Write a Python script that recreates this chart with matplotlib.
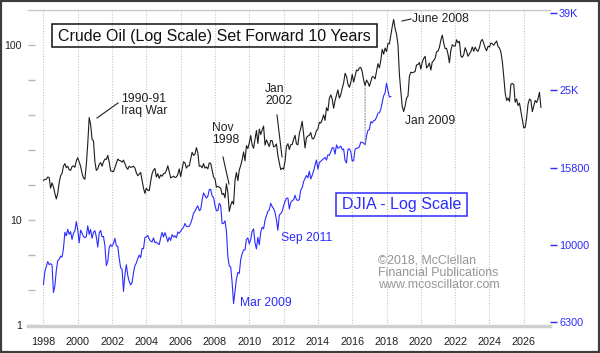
import numpy as np
import matplotlib
matplotlib.use("Agg")
import matplotlib.pyplot as plt
from matplotlib.patches import Rectangle, ConnectionPatch
from matplotlib.lines import Line2D
from matplotlib.ticker import NullLocator

plt.rcParams['font.family'] = ['Liberation Sans', 'DejaVu Sans']

# crude oil, monthly closes Jan 1988 .. Jan 2017 (plotted 10 years forward)
oil_start = 1988
oil = [
    16.9, 17.0, 17.1, 17.6, 17.5, 15.2, 16.3, 15.5, 14.2, 13.2, 14.2, 16.3,   # 1988
    17.9, 18.5, 20.3, 21.0, 19.9, 20.3, 19.4, 19.2, 20.2, 20.4, 20.0, 21.8,   # 1989
    22.7, 21.5, 20.3, 18.5, 17.4, 17.1, 20.7, 27.3, 38.5, 35.2, 28.9, 28.4,   # 1990
    21.5, 19.2, 19.6, 20.8, 21.3, 20.3, 21.5, 22.3, 22.2, 23.4, 21.5, 19.1,   # 1991
    19.0, 18.9, 19.9, 21.1, 22.3, 21.9, 21.8, 21.4, 22.0, 21.0, 20.0, 19.5,   # 1992
    20.3, 20.0, 20.1, 20.3, 19.8, 18.6, 17.9, 18.3, 18.7, 16.9, 15.2, 14.2,   # 1993
    15.2, 14.8, 14.7, 16.6, 18.4, 19.3, 19.7, 17.6, 18.4, 17.3, 18.1, 17.8,   # 1994
    18.4, 18.5, 19.2, 20.4, 18.9, 17.4, 17.6, 17.8, 17.5, 17.6, 18.2, 19.6,   # 1995
    17.7, 19.5, 21.5, 21.2, 19.8, 20.4, 20.4, 22.3, 24.4, 23.4, 23.8, 25.9,   # 1996
    24.2, 20.3, 20.4, 19.9, 21.0, 19.8, 20.1, 19.6, 21.2, 21.1, 19.2, 17.6,   # 1997
    17.2, 15.4, 15.6, 15.4, 15.2, 14.0, 14.2, 13.4, 16.1, 14.4, 11.2, 12.1,   # 1998
    12.8, 12.3, 16.8, 18.7, 16.8, 19.3, 20.5, 22.1, 24.5, 21.8, 26.6, 25.6,   # 1999
    27.6, 30.4, 26.9, 25.7, 29.0, 32.5, 27.4, 33.1, 30.8, 32.7, 34.4, 26.8,   # 2000
    28.7, 27.4, 26.3, 28.5, 28.4, 26.2, 26.4, 27.2, 23.4, 21.2, 19.4, 19.8,   # 2001
    19.5, 21.7, 26.3, 27.3, 25.3, 26.9, 27.0, 28.9, 30.5, 27.2, 26.9, 31.2,   # 2002
    33.5, 36.6, 31.0, 25.8, 29.6, 30.2, 30.5, 31.6, 29.2, 29.1, 30.4, 32.5,   # 2003
    33.1, 36.2, 35.8, 37.4, 39.9, 37.1, 43.8, 42.1, 49.6, 51.8, 49.1, 43.5,   # 2004
    48.2, 51.8, 55.4, 49.7, 52.0, 56.5, 60.6, 68.9, 66.2, 59.8, 57.3, 61.0,   # 2005
    67.9, 61.4, 66.6, 71.9, 71.3, 74.0, 74.4, 70.3, 62.9, 58.7, 63.1, 61.1,   # 2006
    58.1, 62.0, 65.9, 65.7, 64.0, 70.7, 78.2, 74.0, 81.7, 94.5, 88.7, 96.0,   # 2007
    91.8, 101.8, 101.6, 113.5, 127.4, 140.0, 124.1, 115.5, 100.6, 68.1, 54.4, 44.6,  # 2008
    41.7, 44.8, 49.7, 51.1, 66.3, 69.9, 69.5, 69.9, 70.6, 77.0, 77.3, 79.4,   # 2009
    72.9, 79.7, 83.8, 86.2, 74.0, 75.6, 78.9, 71.9, 80.0, 81.4, 84.1, 91.4,   # 2010
    92.2, 97.0, 106.7, 113.9, 102.7, 95.4, 95.7, 88.8, 79.2, 93.2, 100.4, 98.8,  # 2011
    98.5, 107.1, 103.0, 104.9, 86.5, 85.0, 88.1, 96.5, 92.2, 86.2, 88.9, 91.8,   # 2012
    97.5, 92.1, 97.2, 93.5, 92.0, 96.6, 105.0, 107.7, 102.3, 96.4, 92.7, 98.4,   # 2013
    97.5, 102.6, 101.6, 99.7, 102.7, 105.4, 98.2, 96.0, 91.2, 80.5, 66.2, 53.3,  # 2014
    48.2, 49.8, 47.6, 59.6, 60.3, 59.5, 47.1, 49.2, 45.1, 46.6, 41.7, 37.0,   # 2015
    33.6, 33.8, 38.3, 45.9, 49.1, 48.3, 41.6, 44.7, 48.2, 46.9, 49.4, 53.7,   # 2016
    44.0,                                                                       # 2017
]

# DJIA, monthly closes Jan 1998 .. Apr 2018
djia_start = 1998
djia = [
    7907, 8546, 8800, 9063, 8900, 8952, 8883, 7539, 7843, 8592, 9117, 9181,
    9359, 9307, 9786, 10789, 10560, 10971, 10655, 10829, 10337, 10730, 10878, 11497,
    10941, 10128, 10922, 10734, 10522, 10448, 10522, 11215, 10651, 10971, 10415, 10787,
    10887, 10495, 9879, 10735, 10912, 10502, 10523, 9950, 8848, 9075, 9852, 10022,
    9920, 10106, 10404, 9946, 9925, 9243, 8737, 8664, 7592, 8397, 8896, 8342,
    8054, 7891, 7992, 8480, 8850, 8985, 9234, 9416, 9275, 9801, 9782, 10454,
    10488, 10584, 10358, 10226, 10188, 10435, 10140, 10174, 10080, 10027, 10428, 10783,
    10490, 10766, 10504, 10193, 10467, 10275, 10641, 10482, 10569, 10440, 10806, 10718,
    10865, 10993, 11109, 11367, 11168, 11150, 11186, 11381, 11679, 12081, 12221, 12463,
    12622, 12269, 12354, 13063, 13628, 13409, 13212, 13358, 13896, 13930, 13372, 13265,
    12650, 12266, 12263, 12820, 12638, 11350, 11378, 11544, 10851, 9325, 8829, 8776,
    8001, 7063, 7609, 8168, 8500, 8447, 9172, 9496, 9712, 9713, 10345, 10428,
    10067, 10325, 10857, 11009, 10137, 9774, 10466, 10015, 10788, 11118, 11006, 11578,
    11892, 12226, 12320, 12811, 12570, 12414, 12143, 11614, 10913, 11955, 12046, 12218,
    12633, 12952, 13212, 13214, 12393, 12880, 13009, 13091, 13437, 13096, 13026, 13104,
    13861, 14054, 14579, 14840, 15116, 14910, 15500, 14810, 15130, 15546, 16086, 16577,
    15699, 16322, 16458, 16581, 16717, 16827, 16563, 17098, 17043, 17391, 17828, 17823,
    17165, 18133, 17776, 17841, 18011, 17620, 17690, 16528, 16285, 17664, 17720, 17425,
    16466, 16517, 17685, 17774, 17787, 17930, 18432, 18401, 18308, 18142, 19124, 19763,
    19864, 20812, 20663, 20941, 21009, 21350, 21891, 21948, 22405, 23377, 24272, 24719,
    26149, 25029, 24103, 24163,
]

shift_years = 10
left_ticks = [2.5, 3.98, 6.31, 10, 15.8, 25.1, 39.8, 63.1, 100]
left_labels = ['1', '', '', '10', '', '', '', '', '100']
right_ticks = [6310, 10000, 15849, 25119, 39811]
right_labels = ['6300', '10000', '15800', '25K', '39K']
year_ticks = list(range(1998, 2027, 2))

BLUE = '#2b2bff'
W, H = 600, 353

def fx(x):
    return x / W

def fy(y):
    return 1 - y / H

oil_x = oil_start + shift_years + np.arange(len(oil)) / 12
dj_x = djia_start + np.arange(len(djia)) / 12

fig = plt.figure(figsize=(6, 3.53), dpi=100)
ax = fig.add_axes([fx(28), fy(326), 522 / W, 316 / H])
ax2 = ax.twinx()

ax.plot(oil_x, oil, color='#1c1c1c', lw=0.8)
ax2.plot(dj_x, djia, color=BLUE, lw=0.8)

ax.set_xlim(1997.10, 2027.53)
ax.set_yscale('log')
ax.set_ylim(2.48, 158.5)
ax2.set_yscale('log')
ax2.set_ylim(6180, 40420)

ax.set_xticks(year_ticks)
ax.tick_params(axis='x', length=0, pad=8, labelsize=7.8, labelcolor='#202020')
ax.yaxis.set_minor_locator(NullLocator())
ax.set_yticks(left_ticks, left_labels)
ax.tick_params(axis='y', direction='in', length=5, width=1, color='#b8b8b8',
               pad=4.3, labelsize=7.6, labelcolor='#202020')
ax2.yaxis.set_minor_locator(NullLocator())
ax2.set_yticks(right_ticks, right_labels)
ax2.tick_params(axis='y', direction='out', length=5, width=1, color=BLUE,
                pad=1.5, labelsize=7.8, labelcolor=BLUE)

ax.grid(axis='x', color='#c4c4c4', linestyle=(0, (1, 1.5)), lw=0.8)
ax.grid(axis='y', visible=False)
for s in ['left', 'right']:
    ax.spines[s].set_visible(False)
ax.spines['top'].set_color('#c8c8c8')
ax.spines['top'].set_linewidth(1)
ax.spines['bottom'].set_color('#d0d0d0')
ax.spines['bottom'].set_linewidth(2.5)
for s in ax2.spines.values():
    s.set_visible(False)

# dotted link between the two series (Oct 2006 oil vs Oct 2016 DJIA)
i_oil = (2006 - oil_start) * 12 + 9
i_dj = (2016 - djia_start) * 12 + 9
con = ConnectionPatch(xyA=(oil_x[i_oil], oil[i_oil]), coordsA=ax.transData,
                      xyB=(dj_x[i_dj], djia[i_dj]), coordsB=ax2.transData,
                      linestyle=(0, (1, 1.5)), color='#8c8c8c', lw=0.8)
fig.add_artist(con)

# title boxes
fig.add_artist(Rectangle((fx(52), fy(47)), 325 / W, 23 / H, transform=fig.transFigure,
                         fill=False, ec='#111111', lw=1.1))
fig.text(fx(214.5), fy(36), 'Crude Oil (Log Scale) Set Forward 10 Years',
         ha='center', va='center', fontsize=11.5, color='#111111')
fig.add_artist(Rectangle((fx(336), fy(216)), 131 / W, 23 / H, transform=fig.transFigure,
                         fill=False, ec=BLUE, lw=1.1))
fig.text(fx(401.5), fy(205), 'DJIA - Log Scale',
         ha='center', va='center', fontsize=11.5, color=BLUE)

# annotations
fs = 8.7
fig.text(fx(121), fy(93), '1990-91\nIraq War', ha='left', va='top', fontsize=fs,
         color='#202020', linespacing=1.05)
fig.text(fx(212), fy(122), 'Nov\n1998', ha='left', va='top', fontsize=fs,
         color='#202020', linespacing=1.05)
fig.text(fx(265), fy(83), 'Jan\n2002', ha='left', va='top', fontsize=fs,
         color='#202020', linespacing=1.05)
fig.text(fx(412), fy(12.5), 'June 2008', ha='left', va='top', fontsize=fs, color='#202020')
fig.text(fx(405), fy(114.5), 'Jan 2009', ha='left', va='top', fontsize=fs, color='#202020')
fig.text(fx(281), fy(232.5), 'Sep 2011', ha='left', va='top', fontsize=fs, color=BLUE)
fig.text(fx(240), fy(297.5), 'Mar 2009', ha='left', va='top', fontsize=fs, color=BLUE)
fig.text(fx(378), fy(254.5), '\u00a92018, McClellan\nFinancial Publications\nwww.mcoscillator.com',
         ha='left', va='top', fontsize=8.9, color='#959595', linespacing=1.0)

for (x0, y0, x1, y1) in [(97, 118, 118, 103), (223, 157, 229, 184),
                         (277, 115, 282, 157), (402, 21, 411, 19)]:
    fig.add_artist(Line2D([fx(x0), fx(x1)], [fy(y0), fy(y1)], transform=fig.transFigure,
                          color='#202020', lw=0.8))

# outer frame
fig.add_artist(Rectangle((0, 0), 1, 1, transform=fig.transFigure, fill=False,
                         ec='#3c3c3c', lw=3))

fig.savefig('out.png', dpi=100)
